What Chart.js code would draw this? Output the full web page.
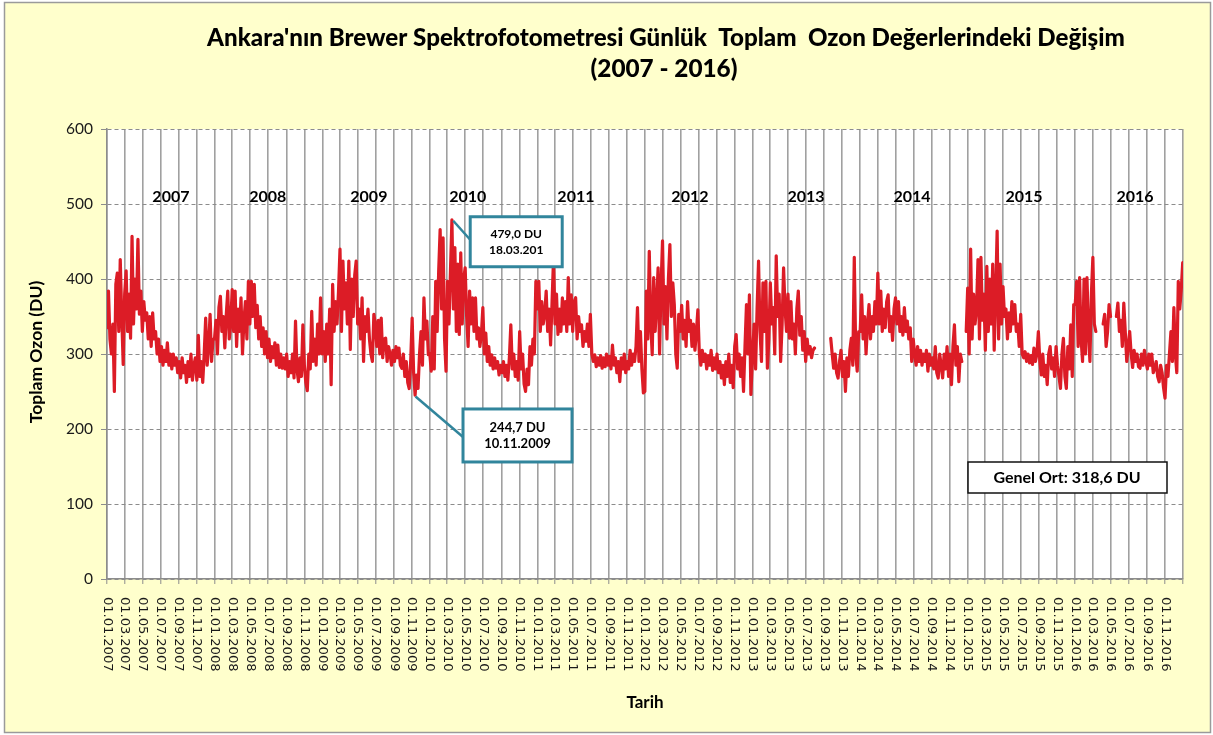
<!DOCTYPE html>
<html><head><meta charset="utf-8">
<script src="https://cdn.jsdelivr.net/npm/chart.js@4.4.1/dist/chart.umd.min.js"></script>
<style>html,body{margin:0;padding:0;background:#fff;}canvas{display:block;}</style>
</head><body>
<canvas id="c" width="1213" height="735"></canvas>
<script>
// ---------- DATA ----------
const titleLine1 = "Ankara'nın Brewer Spektrofotometresi Günlük  Toplam  Ozon Değerlerindeki Değişim";
const titleLine2 = "(2007 - 2016)";
const xTitle = "Tarih";
const yTitle = "Toplam Ozon (DU)";
const yTicks = [0, 100, 200, 300, 400, 500, 600];
const tickLabels = [
 "01.01.2007","01.03.2007","01.05.2007","01.07.2007","01.09.2007","01.11.2007",
 "01.01.2008","01.03.2008","01.05.2008","01.07.2008","01.09.2008","01.11.2008",
 "01.01.2009","01.03.2009","01.05.2009","01.07.2009","01.09.2009","01.11.2009",
 "01.01.2010","01.03.2010","01.05.2010","01.07.2010","01.09.2010","01.11.2010",
 "01.01.2011","01.03.2011","01.05.2011","01.07.2011","01.09.2011","01.11.2011",
 "01.01.2012","01.03.2012","01.05.2012","01.07.2012","01.09.2012","01.11.2012",
 "01.01.2013","01.03.2013","01.05.2013","01.07.2013","01.09.2013","01.11.2013",
 "01.01.2014","01.03.2014","01.05.2014","01.07.2014","01.09.2014","01.11.2014",
 "01.01.2015","01.03.2015","01.05.2015","01.07.2015","01.09.2015","01.11.2015",
 "01.01.2016","01.03.2016","01.05.2016","01.07.2016","01.09.2016","01.11.2016"
];
const axisEnd = "01.01.2017";
// daily total ozone (DU), one reading every 5 days from 1 January of each year
const stepDays = 5;
const oz2007 = [335,384,320,300,340,250,393,408,330,426,350,286,380,411,330,380,321,457,340,400,360,453,353,384,330,370,345,355,320,350,310,355,320,330,300,320,290,310,285,305,290,315,285,300,280,300,285,295,275,290,268,295,275,285,262,290,270,300,265,285,295,265,325,270,290,262,300,348,285,310,353,290,320];
const oz2008 = [320,345,300,362,377,330,350,308,353,384,320,340,386,330,384,310,360,330,375,300,345,370,320,397,340,397,350,393,335,365,320,350,310,335,300,330,295,320,290,310,295,315,285,312,282,300,281,295,280,300,270,290,275,300,268,344,280,263,295,270,339,285,262,251,300,280,357,290,320,285,340,300,375];
const oz2009 = [300,330,290,340,300,360,259,393,330,370,340,384,440,330,424,360,395,340,424,306,400,350,405,424,340,360,320,375,290,350,330,360,320,300,290,353,340,310,345,300,348,295,320,321,290,310,300,285,305,290,310,295,308,285,281,300,270,290,262,254,290,348,275,245,272,254,300,330,285,375,320,344,299];
const oz2010 = [300,277,350,280,397,330,410,466,360,455,320,277,397,340,410,479,360,442,330,420,326,435,340,400,415,350,310,384,340,375,330,375,320,335,310,326,362,300,328,290,310,285,299,280,295,281,290,272,285,275,290,270,285,265,295,339,280,300,270,290,265,330,280,300,260,250,280,259,310,285,320,300,397];
const oz2011 = [360,397,330,370,340,353,384,330,360,312,370,428,340,380,326,360,330,375,340,370,330,402,340,379,330,370,375,320,350,330,339,310,330,317,340,310,353,300,290,299,283,295,285,298,281,295,283,300,285,297,280,312,285,295,275,290,263,295,280,300,275,290,280,305,285,300,290,310,362,290,330,280,248];
const oz2012 = [250,384,320,437,340,299,402,330,370,415,300,390,451,340,390,320,400,446,350,395,366,300,281,353,330,365,320,345,310,370,330,345,310,340,305,330,359,300,285,305,290,300,280,298,285,305,278,295,280,300,275,290,268,285,259,290,270,300,262,285,255,310,326,280,300,270,295,250,310,366,300,379,246];
const oz2013 = [300,340,280,360,424,330,290,395,330,397,281,320,395,340,362,300,431,350,380,290,340,415,360,330,380,321,370,320,340,300,360,384,325,350,305,330,290,320,300,310,295,305,308,null,null,null,null,null,null,null,null,null,null,321,300,281,300,275,268,290,305,270,290,250,295,270,305,321,285,429,300,277,330];
const oz2014 = [330,379,320,350,300,340,366,320,350,330,370,340,408,340,384,330,360,335,370,379,330,350,318,360,375,340,370,330,350,325,362,330,344,320,335,290,320,300,285,310,290,305,285,300,290,305,277,300,285,295,280,310,275,268,300,285,268,300,280,310,270,300,259,310,339,285,310,263,300,290,null,null,330];
const oz2015 = [388,300,440,320,380,340,360,426,320,429,345,380,305,417,330,400,340,420,305,380,464,320,420,340,390,350,360,320,355,330,370,340,366,330,340,310,353,300,295,303,290,300,288,298,286,308,290,300,330,290,272,300,270,285,259,300,310,280,295,270,310,285,270,254,300,321,270,254,310,280,339,270,366];
const oz2016 = [366,397,310,402,320,290,400,300,402,330,290,380,429,340,330,null,null,null,null,340,353,310,330,366,350,null,null,null,350,368,330,345,310,368,330,290,310,330,300,282,305,290,300,283,281,300,285,305,290,280,300,285,300,275,281,290,270,263,285,275,255,241,285,270,300,330,290,362,300,275,397,360,385,422];
const yearSeries = [[2007,oz2007],[2008,oz2008],[2009,oz2009],[2010,oz2010],[2011,oz2011],[2012,oz2012],[2013,oz2013],[2014,oz2014],[2015,oz2015],[2016,oz2016]];
const yearLabels = ["2007","2008","2009","2010","2011","2012","2013","2014","2015","2016"];
const yearLabelDates = ["2007-08-06","2008-06-30","2009-06-08","2010-05-10","2011-05-12","2012-06-02","2013-07-01","2014-06-26","2015-07-11","2016-07-22"];
const yearLabelValue = 512;
const maxPoint = {date: "2010-03-18", value: 479.0, text: ["479,0 DU", "18.03.201"]};
const minPoint = {date: "2009-11-10", value: 244.7, text: ["244,7 DU", "10.11.2009"]};
const meanText = "Genel Ort: 318,6 DU";

// ---------- HELPERS ----------
const D0 = Date.UTC(2007, 0, 1);
function isoDay(s) { const [y, m, d] = s.split('-').map(Number); return (Date.UTC(y, m - 1, d) - D0) / 864e5; }
function labelDay(s) { const [d, m, y] = s.split('.').map(Number); return (Date.UTC(y, m - 1, d) - D0) / 864e5; }

const points = [];
yearSeries.forEach(([yr, arr]) => {
  const start = isoDay(yr + '-01-01');
  arr.forEach((v, i) => points.push({x: start + i * stepDays, y: v}));
});

const FONT = "Lato, 'Open Sans', sans-serif";
const teal = '#31859C';

const decor = {
  id: 'decor',
  beforeDraw(chart) {
    const ctx = chart.ctx, a = chart.chartArea;
    ctx.save();
    ctx.fillStyle = '#ffffff';
    ctx.fillRect(0, 0, chart.width, chart.height);
    ctx.fillStyle = '#FFFFCC';
    ctx.fillRect(4, 2, 1206, 731);
    ctx.strokeStyle = '#9a9a9a';
    ctx.lineWidth = 1.5;
    ctx.strokeRect(4.5, 2.5, 1206, 730);
    ctx.fillStyle = '#ffffff';
    ctx.fillRect(a.left, a.top, a.right - a.left, a.bottom - a.top);
    ctx.restore();
  },
  afterDraw(chart) {
    const ctx = chart.ctx, a = chart.chartArea;
    const xs = chart.scales.x, ys = chart.scales.y;
    ctx.save();
    // x tick labels, rotated clockwise
    ctx.fillStyle = '#1a1a1a';
    ctx.font = "13px 'DejaVu Sans'";
    ctx.textAlign = 'left';
    ctx.textBaseline = 'middle';
    tickLabels.forEach(l => {
      const px = xs.getPixelForValue(labelDay(l));
      ctx.save();
      ctx.translate(px, a.bottom + 18);
      ctx.rotate(Math.PI / 2);
      ctx.fillText(l, 0, 0);
      ctx.restore();
    });
    // titles
    ctx.fillStyle = '#000';
    ctx.textAlign = 'center';
    ctx.font = "900 20px " + FONT;
    let w = ctx.measureText(titleLine1).width;
    ctx.font = "900 " + (20 * 918 / w).toFixed(2) + "px " + FONT;
    ctx.fillText(titleLine1, 666, 38);
    ctx.font = "900 20px " + FONT;
    w = ctx.measureText(titleLine2).width;
    ctx.font = "900 " + (20 * 147 / w).toFixed(2) + "px " + FONT;
    ctx.fillText(titleLine2, 664, 69);
    // axis titles
    ctx.font = "bold 17px " + FONT;
    ctx.fillText(xTitle, (a.left + a.right) / 2, 703);
    ctx.save();
    ctx.translate(36, (a.top + a.bottom) / 2 - 2);
    ctx.rotate(-Math.PI / 2);
    ctx.font = "bold 17.5px " + FONT;
    ctx.fillText(yTitle, 0, 0);
    ctx.restore();
    // year labels
    ctx.font = "bold 16px " + FONT;
    yearLabels.forEach((t, i) => {
      ctx.fillText(t, xs.getPixelForValue(isoDay(yearLabelDates[i])), ys.getPixelForValue(yearLabelValue) + 2);
    });
    // callouts
    function callout(p, dx, dy, bw, bh, lx, ly, size) {
      const px = xs.getPixelForValue(isoDay(p.date)), py = ys.getPixelForValue(p.value);
      const bx = px + dx, by = py + dy;
      ctx.strokeStyle = teal;
      ctx.lineWidth = 2.5;
      ctx.beginPath();
      ctx.moveTo(px + 1, py + 1);
      ctx.lineTo(px + lx, py + ly);
      ctx.stroke();
      ctx.fillStyle = '#fff';
      ctx.fillRect(bx, by, bw, bh);
      ctx.lineWidth = 3;
      ctx.strokeRect(bx, by, bw, bh);
      ctx.fillStyle = '#000';
      ctx.font = "bold " + size + "px " + FONT;
      ctx.textBaseline = 'middle';
      ctx.fillText(p.text[0], bx + bw / 2, by + bh / 2 - 8);
      ctx.fillText(p.text[1], bx + bw / 2, by + bh / 2 + 8);
    }
    callout(maxPoint, 18, -3, 92, 50, 18, 20, 12);
    callout(minPoint, 48.5, 13.5, 109, 53, 48.5, 41.5, 13);
    // mean box
    ctx.fillStyle = '#fff';
    ctx.fillRect(968, 462, 199, 31);
    ctx.strokeStyle = '#111';
    ctx.lineWidth = 1.5;
    ctx.strokeRect(968, 462, 199, 31);
    ctx.fillStyle = '#000';
    ctx.font = "bold 16px " + FONT;
    ctx.fillText(meanText, 1067, 478);
    ctx.restore();
  }
};

new Chart(document.getElementById('c'), {
  type: 'line',
  data: {
    datasets: [{
      label: 'Toplam Ozon',
      data: points,
      borderColor: '#DC1C26',
      borderWidth: 3.2,
      borderJoinStyle: 'round',
      borderCapStyle: 'round',
      pointRadius: 0,
      tension: 0,
      spanGaps: false
    }]
  },
  options: {
    responsive: false,
    animation: false,
    devicePixelRatio: 1,
    layout: {padding: {top: 129, right: 30, left: 0, bottom: 0}},
    plugins: {legend: {display: false}, title: {display: false}, tooltip: {enabled: false}},
    scales: {
      x: {
        type: 'linear',
        min: 0,
        max: labelDay(axisEnd),
        afterBuildTicks: s => { s.ticks = tickLabels.concat([axisEnd]).map(l => ({value: labelDay(l)})); },
        afterFit: s => { s.height = 156; },
        ticks: {display: false},
        grid: {color: '#a0a0a0', lineWidth: 1.6, tickLength: 5, tickColor: '#8c8c8c', tickWidth: 1},
        border: {color: '#8c8c8c', width: 1.5}
      },
      y: {
        min: 0,
        max: 600,
        afterBuildTicks: s => { s.ticks = yTicks.map(v => ({value: v})); },
        afterFit: s => { s.width = 107; },
        ticks: {font: {family: FONT, size: 15.5}, color: '#1a1a1a', padding: 8},
        grid: {color: '#8c8c8c', lineWidth: 1, tickLength: 6, tickColor: '#8c8c8c', tickWidth: 1},
        border: {color: '#8c8c8c', width: 1.5, dash: [4, 3]}
      }
    }
  },
  plugins: [decor]
});
</script>
</body></html>
